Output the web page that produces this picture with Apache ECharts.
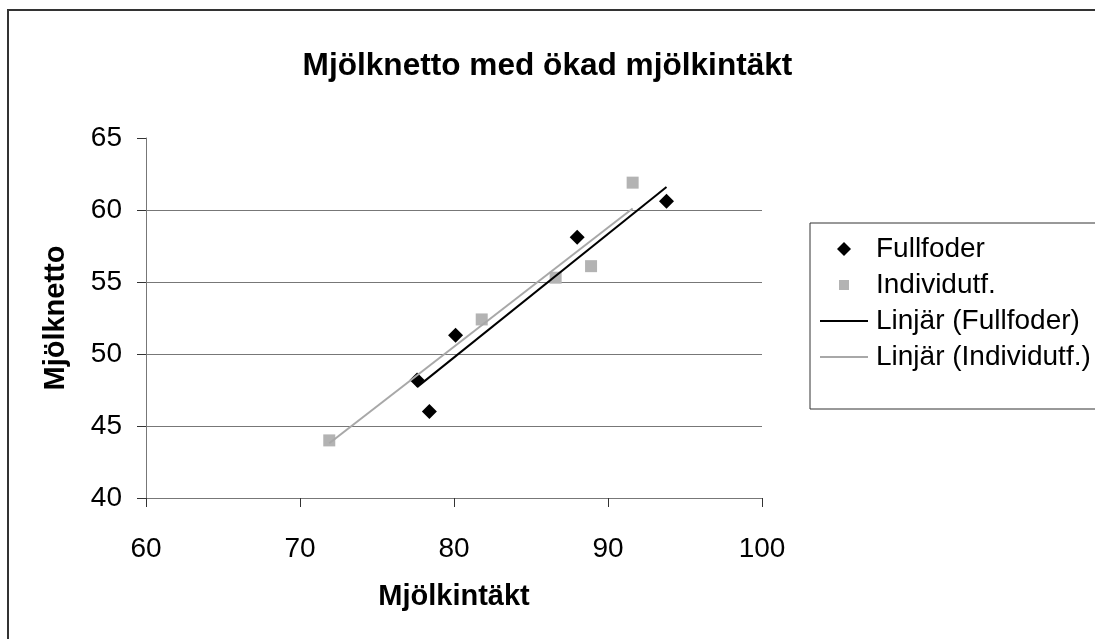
<!DOCTYPE html>
<html>
<head>
<meta charset="utf-8">
<script src="https://cdn.jsdelivr.net/npm/echarts@6/dist/echarts.min.js"></script>
<style>
html, body { margin: 0; padding: 0; background: #fff; }
#mjolk_chart { width: 1095px; height: 639px; }
</style>
</head>
<body>
<div id="mjolk_chart"></div>
<script>
// punkter
let fullfoder_x = [77.6, 78.4, 80.1, 88.0, 93.8];
let fullfoder_y = [48.2, 46.0, 51.3, 58.1, 60.6];
let individ_x = [71.9, 81.8, 86.6, 88.9, 91.6];
let individ_y = [44.0, 52.4, 55.3, 56.1, 61.9];
// trendlinjernas ändpunkter
let trend_full_x = [77.6, 93.8];
let trend_full_y = [47.7, 61.6];
let trend_ind_x = [71.9, 91.6];
let trend_ind_y = [43.8, 60.1];

function pairs(xs, ys) {
    return xs.map(function (x, i) { return [x, ys[i]]; });
}

let font = '"Liberation Sans", Arial, sans-serif';
let line_icon = 'path://M0,0M48,14M0,6L48,6L48,8L0,8Z';

let mjolk_option = {
    animation: false,
    backgroundColor: '#fff',
    title: {
        text: 'Mjölknetto med ökad mjölkintäkt',
        left: 'center',
        top: 45,
        textStyle: {
            color: '#000',
            fontFamily: font,
            fontSize: 31.6,
            fontWeight: 'bold'
        }
    },
    graphic: [{
        type: 'rect',
        shape: { x: 8, y: 10, width: 1200, height: 800 },
        style: { fill: 'none', stroke: '#333', lineWidth: 2 },
        silent: true
    }],
    legend: {
        orient: 'vertical',
        left: 810,
        top: 223,
        padding: [12, 10, 38, 10],
        borderColor: '#333',
        borderWidth: 1,
        itemWidth: 48,
        itemHeight: 14,
        itemGap: 8,
        textStyle: {
            color: '#000',
            fontFamily: font,
            fontSize: 28,
            lineHeight: 28,
            padding: [0, 0, 0, 3]
        },
        data: [
            { name: 'Fullfoder', icon: 'path://M0,0M48,14M17,7L24,0L31,7L24,14Z' },
            { name: 'Individutf.', icon: 'path://M0,0M48,14M19,2L29,2L29,12L19,12Z' },
            { name: 'Linjär (Fullfoder)', icon: line_icon },
            { name: 'Linjär (Individutf.)', icon: line_icon }
        ]
    },
    grid: {
        left: 146,
        right: 333,
        top: 138,
        bottom: 141
    },
    xAxis: {
        type: 'value',
        min: 60,
        max: 100,
        interval: 10,
        name: 'Mjölkintäkt',
        nameLocation: 'middle',
        nameGap: 84,
        nameTextStyle: {
            color: '#000',
            fontFamily: font,
            fontSize: 29,
            fontWeight: 'bold'
        },
        axisLine: { lineStyle: { color: '#777', width: 1 } },
        axisTick: { show: true, length: 9, lineStyle: { color: '#333' } },
        axisLabel: { color: '#000', fontFamily: font, fontSize: 28, margin: 37 },
        splitLine: { show: false }
    },
    yAxis: {
        type: 'value',
        min: 40,
        max: 65,
        interval: 5,
        name: 'Mjölknetto',
        nameLocation: 'middle',
        nameGap: 76,
        nameTextStyle: {
            color: '#000',
            fontFamily: font,
            fontSize: 29,
            fontWeight: 'bold'
        },
        axisLine: { show: true, lineStyle: { color: '#777', width: 1 } },
        axisTick: { show: true, length: 9, lineStyle: { color: '#333' } },
        axisLabel: { color: '#000', fontFamily: font, fontSize: 28, margin: 24 },
        splitLine: {
            show: true,
            showMaxLine: false,
            lineStyle: { color: '#777', width: 1 }
        }
    },
    series: [
        {
            name: 'Fullfoder',
            type: 'scatter',
            symbol: 'diamond',
            symbolSize: 15,
            itemStyle: { color: '#000', opacity: 1 },
            data: pairs(fullfoder_x, fullfoder_y)
        },
        {
            name: 'Individutf.',
            type: 'scatter',
            symbol: 'rect',
            symbolSize: 12,
            itemStyle: { color: '#b3b3b3', opacity: 1 },
            data: pairs(individ_x, individ_y)
        },
        {
            name: 'Linjär (Fullfoder)',
            type: 'line',
            symbol: 'none',
            showSymbol: false,
            itemStyle: { color: '#000' },
            lineStyle: { color: '#000', width: 2 },
            data: pairs(trend_full_x, trend_full_y)
        },
        {
            name: 'Linjär (Individutf.)',
            type: 'line',
            symbol: 'none',
            showSymbol: false,
            itemStyle: { color: '#a8a8a8' },
            lineStyle: { color: '#a8a8a8', width: 2 },
            data: pairs(trend_ind_x, trend_ind_y)
        }
    ]
};

var mjolk_chart = echarts.init(document.getElementById('mjolk_chart'));
mjolk_chart.setOption(mjolk_option);
</script>
</body>
</html>
